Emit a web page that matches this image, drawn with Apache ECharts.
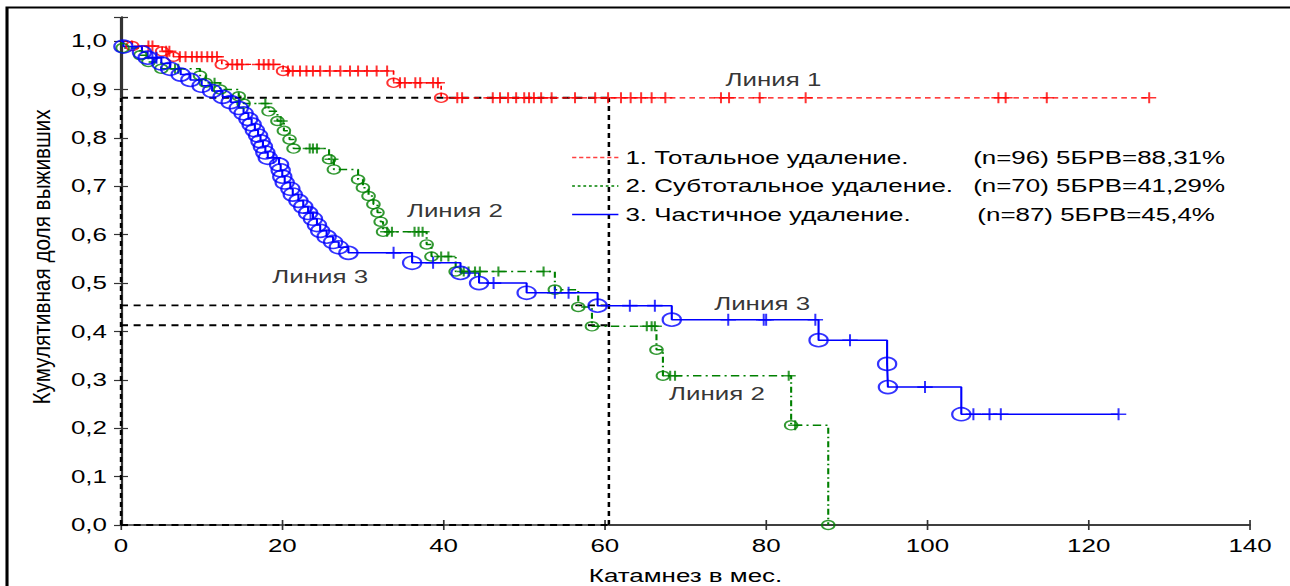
<!DOCTYPE html>
<html><head><meta charset="utf-8">
<script src="https://cdn.jsdelivr.net/npm/echarts@6/dist/echarts.min.js"></script>
<style>
html,body{margin:0;padding:0;background:#fff;overflow:hidden;width:1290px;height:586px;}
#c{width:920px;height:586px;transform-origin:0 0;}
</style></head><body>
<div id="c"></div>
<script>
// ---- data ----
const seriesNames = ['1. Тотальное удаление.', '2. Субтотальное удаление.', '3. Частичное удаление.'];
const seriesStats = ['(n=96) 5БРВ=88,31%', '(n=70) 5БРВ=41,29%', '(n=87) 5БРВ=45,4%'];
const fiveYearRates = [0.8831, 0.4129, 0.454];
const fiveYearMonth = 60.5;

// [time (months), survival after the event]
const redEvents = [[1.4,0.990],[5.1,0.979],[6.5,0.968],[12.5,0.952],[20.1,0.9385],[33.8,0.914],[39.7,0.883]];
const redCensored = [3.4,3.9,5.6,6.0,7.3,8.0,8.8,9.4,10.0,10.7,11.3,11.9,13.8,14.4,15.0,17.1,17.7,18.3,18.9,
  20.7,21.3,22.2,23.0,23.8,24.7,25.9,27.2,28.4,29.4,30.5,31.7,33.0,34.6,35.2,36.5,37.1,38.7,39.3,
  41.7,42.3,46.1,47.0,48.0,49.0,50.0,50.6,51.2,52.1,53.4,56.3,58.8,60.4,62.0,63.2,64.5,65.8,67.5,
  74.4,75.4,79.2,84.9,108.8,109.7,114.8,127.5];

const greenEvents = [[0.2,0.986],[2.4,0.971],[3.4,0.957],[5.0,0.943],[9.8,0.929],[10.5,0.914],[12.3,0.900],
  [14.6,0.886],[15.2,0.871],[18.3,0.855],[19.4,0.835],[20.2,0.815],[20.9,0.797],[21.4,0.778],[25.8,0.756],
  [26.4,0.735],[29.4,0.714],[30.0,0.697],[30.7,0.680],[31.3,0.663],[31.8,0.646],[32.2,0.627],[32.5,0.606],
  [37.9,0.580],[38.5,0.555],[41.5,0.524],[53.8,0.4865],[56.7,0.4507],[58.4,0.4106],[66.4,0.3623],
  [67.2,0.3085],[83.1,0.206],[87.7,0.0]];
const greenCensored = [6.7,7.1,11.6,17.9,19.8,23.4,23.8,24.3,26.1,33.0,33.6,36.4,36.9,37.4,39.7,40.6,
  42.5,43.1,43.9,44.5,46.8,52.4,65.2,65.8,66.2,68.1,68.7,82.8,83.6];

const blueEvents = [[0.3,0.989],[2.6,0.977],[3.3,0.966],[5.0,0.954],[6.1,0.943],[7.4,0.931],[8.6,0.920],
  [10.0,0.908],[11.3,0.897],[12.6,0.885],[13.6,0.874],[14.6,0.862],[15.2,0.851],[15.8,0.839],[16.2,0.828],
  [16.6,0.816],[17.0,0.805],[17.3,0.793],[17.6,0.782],[17.9,0.770],[18.2,0.759],[19.6,0.745],[19.8,0.733],
  [20.0,0.720],[20.3,0.708],[21.0,0.695],[21.3,0.683],[22.0,0.670],[22.6,0.658],[23.2,0.645],[23.8,0.633],
  [24.3,0.620],[24.7,0.608],[25.5,0.596],[26.3,0.585],[27.0,0.574],[28.2,0.5625],[36.1,0.542],[42.1,0.521],
  [44.4,0.500],[50.3,0.480],[59.1,0.4534],[68.3,0.4244],[86.5,0.382],[95.0,0.333],[95.1,0.285],[104.2,0.229]];
const blueCensored = [3.9,4.4,18.9,23.5,33.8,38.7,46.2,53.8,55.5,63.1,66.2,75.3,79.7,80.0,86.1,90.4,
  99.7,105.7,107.7,109.1,123.7];

const lineLabels = [['Линия 1',80.9,0.921],['Линия 2',41.4,0.650],['Линия 3',24.7,0.513],
  ['Линия 3',79.5,0.4576],['Линия 2',73.9,0.271]];

// ---- layout (chart is drawn narrow and stretched horizontally like the reference) ----
const W = 920, S = 1290 / W;
document.getElementById('c').style.transform = 'scaleX(' + S + ')';
const FONT = '"Liberation Sans", Arial, sans-serif';
const FS = 18.5;
const RED = '#ff0000', GREEN = '#008000', BLUE = '#0000ff';
const PLUS = 'path://M0,5L10,5M5,0L5,10';

function survAt(events, t) {
  let s = 1;
  for (const e of events) { if (e[0] <= t) s = e[1]; else break; }
  return s;
}
function kmLine(events, censored) {
  const pts = [[0, 1]];
  let s = 1;
  for (const e of events) { pts.push([e[0], s]); pts.push([e[0], e[1]]); s = e[1]; }
  const last = Math.max(events[events.length - 1][0], censored.length ? censored[censored.length - 1] : 0);
  pts.push([last, s]);
  return pts;
}

const groups = [
  {ev: redEvents, ce: redCensored, color: RED, line: {width: 1.2, type: [4, 3]}, circ: 9, plus: [10, 11], bw: 1.4},
  {ev: greenEvents, ce: greenCensored, color: GREEN, line: {width: 1.5, type: [6, 3, 1.5, 3]}, circ: 9, plus: [10, 10], bw: 1.4},
  {ev: blueEvents, ce: blueCensored, color: BLUE, line: {width: 1.5, type: 'solid'}, circ: 13, plus: [11, 12], bw: 1.6}
];

const series = [];
groups.forEach((g, i) => {
  series.push({
    name: seriesNames[i], type: 'line', data: kmLine(g.ev, g.ce), symbol: 'none', showSymbol: false,
    lineStyle: {color: g.color, width: g.line.width, type: g.line.type}, itemStyle: {color: g.color},
    z: 3, silent: true
  });
});
groups.forEach((g, i) => {
  series.push({
    type: 'scatter', data: g.ev, symbol: 'circle', symbolSize: g.circ,
    itemStyle: {color: 'rgba(0,0,0,0)', borderColor: g.color, borderWidth: g.bw}, z: 4, silent: true
  });
  series.push({
    type: 'scatter', data: g.ce.map(t => [t, survAt(g.ev, t)]), symbol: PLUS, symbolSize: g.plus,
    itemStyle: {color: 'rgba(0,0,0,0)', borderColor: g.color, borderWidth: 1.5}, z: 4, silent: true
  });
});

// reference (5-year) dashed lines and frame
const dashBlack = {color: '#000', width: 1.8, type: [5, 4]};
fiveYearRates.forEach(r => {
  series.push({type: 'line', data: [[0, r], [fiveYearMonth, r]], symbol: 'none', lineStyle: dashBlack, z: 2, silent: true, clip: false});
});
series.push({type: 'line', data: [[fiveYearMonth, 0], [fiveYearMonth, fiveYearRates[0]]], symbol: 'none', lineStyle: dashBlack, z: 2, silent: true, clip: false});
series.push({type: 'line', data: [[0, 0], [fiveYearMonth, 0]], symbol: 'none', lineStyle: dashBlack, z: 2, silent: true, clip: false});
series.push({type: 'line', data: [[0, 0], [0, fiveYearRates[0]]], symbol: 'none', lineStyle: dashBlack, z: 2, silent: true, clip: false});
const solidBlack = {color: '#333', width: 1.6, type: 'solid'};
series.push({type: 'line', data: [[fiveYearMonth, 0], [140, 0]], symbol: 'none', lineStyle: solidBlack, z: 2, silent: true, clip: false});
series.push({type: 'line', data: [[0, fiveYearRates[0]], [0, 1.05]], symbol: 'none', lineStyle: solidBlack, z: 2, silent: true, clip: false});

// curve annotations
series.push({
  type: 'scatter', symbolSize: 0, silent: true, z: 5,
  data: lineLabels.map(l => ({name: l[0], value: [l[1], l[2]]})),
  label: {show: true, position: 'inside', formatter: p => p.name, color: '#000', fontSize: FS, fontFamily: FONT}
});

const axisCommon = {
  splitLine: {show: false},
  axisTick: {show: true, inside: true, length: 5, lineStyle: {color: '#333', width: 1.2}}
};

const chart = echarts.init(document.getElementById('c'), null, {renderer: 'svg', width: W, height: 586});
chart.setOption({
  animation: false,
  backgroundColor: '#fff',
  grid: {left: 121 / S, right: W - 1250 / S, top: 17, bottom: 61, containLabel: false, outerBoundsMode: 'none'},
  xAxis: [
    Object.assign({type: 'value', min: 0, max: 140, interval: 20, position: 'bottom',
      axisLine: {show: false},
      axisLabel: {color: '#000', fontSize: FS, fontFamily: FONT, margin: 11},
      name: 'Катамнез в мес.', nameLocation: 'middle', nameGap: 41,
      nameTextStyle: {color: '#000', fontSize: FS, fontFamily: FONT}}, axisCommon),
    Object.assign({type: 'value', min: 0, max: 140, interval: 20, position: 'top',
      axisLine: {show: true, lineStyle: {color: '#333', width: 1.6}},
      axisLabel: {show: false}}, axisCommon)
  ],
  yAxis: [
    Object.assign({type: 'value', min: 0, max: 1.05, interval: 0.1, position: 'left',
      axisLine: {show: false},
      axisLabel: {color: '#000', fontSize: FS, fontFamily: FONT, margin: 10,
        formatter: v => v > 1.001 ? '' : v.toFixed(1).replace('.', ',')}}, axisCommon),
    Object.assign({type: 'value', min: 0, max: 1.05, interval: 0.1, position: 'right',
      axisLine: {show: true, lineStyle: {color: '#333', width: 1.6}},
      axisLabel: {show: false}}, axisCommon)
  ],
  legend: {
    orient: 'vertical', left: 571 / S, top: 148, padding: 0, itemWidth: 33, itemHeight: 12, itemGap: 9.5,
    selectedMode: false,
    data: [
      {name: seriesNames[0], itemStyle: {opacity: 0}, lineStyle: {type: [3, 2], width: 1.3, color: RED, opacity: 0.75}},
      {name: seriesNames[1], itemStyle: {opacity: 0}, lineStyle: {type: [2, 2], width: 1.6, color: GREEN}},
      {name: seriesNames[2], itemStyle: {opacity: 0}, lineStyle: {type: 'solid', width: 1.6, color: BLUE}}
    ],
    formatter: name => {
      const i = seriesNames.indexOf(name);
      return '{' + (i === 2 ? 'c' : 'a') + '|' + name + '}{b|' + seriesStats[i] + '}';
    },
    textStyle: {color: '#000', fontSize: FS, fontFamily: FONT, lineHeight: 18,
      rich: {a: {width: 248, fontSize: FS, fontFamily: FONT}, c: {width: 251, fontSize: FS, fontFamily: FONT},
             b: {fontSize: FS, fontFamily: FONT}}}
  },
  graphic: [
    {type: 'rect', shape: {x: 5, y: 7.5, width: 2000, height: 1000}, style: {fill: 'none', stroke: '#000', lineWidth: 2.2}, silent: true, z: 0},
    {type: 'text', x: 42 / S, y: 257, rotation: Math.PI / 2, scaleX: 1.22, scaleY: 1,
      style: {text: 'Кумулятивная доля выживших', fontSize: 17, fontFamily: FONT, fill: '#000', align: 'center', verticalAlign: 'middle'}, silent: true}
  ],
  series: series
});
</script>
</body></html>
